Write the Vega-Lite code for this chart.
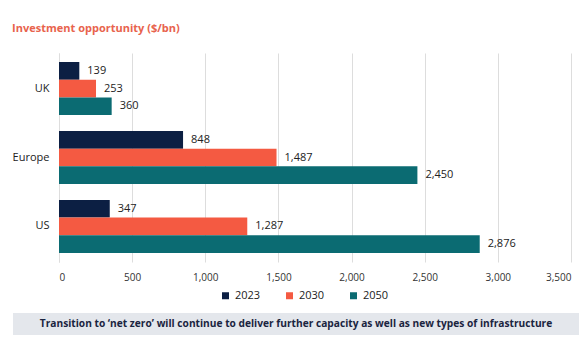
{
  "$schema": "https://vega.github.io/schema/vega-lite/v6.json",
  "background": "white",
  "padding": {"left": 12, "top": 23, "right": 8, "bottom": 2},
  "config": {"font": "Open Sans", "view": {"stroke": null}},
  "spacing": 31,
  "vconcat": [
    {
      "title": {"text": "Investment opportunity ($/bn)", "anchor": "start", "frame": "bounds", "color": "#e8634d", "fontSize": 11, "fontWeight": "bold", "offset": 19},
      "width": 558,
      "height": 209,
      "data": {"values": [
        {"region": "UK", "year": "2023", "value": 139},
        {"region": "UK", "year": "2030", "value": 253},
        {"region": "UK", "year": "2050", "value": 360},
        {"region": "Europe", "year": "2023", "value": 848},
        {"region": "Europe", "year": "2030", "value": 1487},
        {"region": "Europe", "year": "2050", "value": 2450},
        {"region": "US", "year": "2023", "value": 347},
        {"region": "US", "year": "2030", "value": 1287},
        {"region": "US", "year": "2050", "value": 2876}
      ]},
      "encoding": {
        "y": {"field": "region", "type": "nominal", "sort": ["UK", "Europe", "US"],
              "scale": {"paddingInner": 0.23, "paddingOuter": 0.13},
              "axis": {"title": null, "ticks": false, "domain": true, "domainColor": "#dddddd", "offset": -46, "labelFontSize": 11, "labelColor": "#222222", "labelPadding": 10}},
        "yOffset": {"field": "year", "type": "nominal", "sort": ["2023", "2030", "2050"]},
        "x": {"field": "value", "type": "quantitative", "scale": {"domain": [0, 3500], "nice": false, "range": [46, 558]},
              "axis": {"title": null, "values": [0, 500, 1000, 1500, 2000, 2500, 3000, 3500], "grid": true, "gridColor": "#dddddd", "domain": false, "ticks": false, "labelFontSize": 10, "labelColor": "#333333", "labelExpr": "format(datum.value, ',')", "labelPadding": 10}}
      },
      "layer": [
        {
          "mark": {"type": "bar"},
          "encoding": {
            "color": {"field": "year", "type": "nominal",
                      "scale": {"domain": ["2023", "2030", "2050"], "range": ["#0c1f43", "#f45a42", "#0b6b72"]},
                      "legend": {"title": null, "orient": "none", "legendX": 207, "legendY": 237, "direction": "horizontal", "symbolType": "square", "symbolSize": 49, "symbolStrokeWidth": 0, "labelFontSize": 11, "labelColor": "#222222", "columnPadding": 23}}
          }
        },
        {
          "mark": {"type": "text", "align": "left", "dx": 8, "fontSize": 11, "color": "#222222"},
          "encoding": {"text": {"field": "value", "type": "quantitative", "format": ","}}
        }
      ]
    },
    {
      "width": 566,
      "height": 22,
      "view": {"fill": "#e4e7ec", "stroke": null},
      "data": {"values": [{"t": "Transition to ‘net zero’ will continue to deliver further capacity as well as new types of infrastructure"}]},
      "mark": {"type": "text", "fontWeight": "bold", "fontSize": 10.2, "color": "#1a2440"},
      "encoding": {"text": {"field": "t", "type": "nominal"}}
    }
  ]
}
